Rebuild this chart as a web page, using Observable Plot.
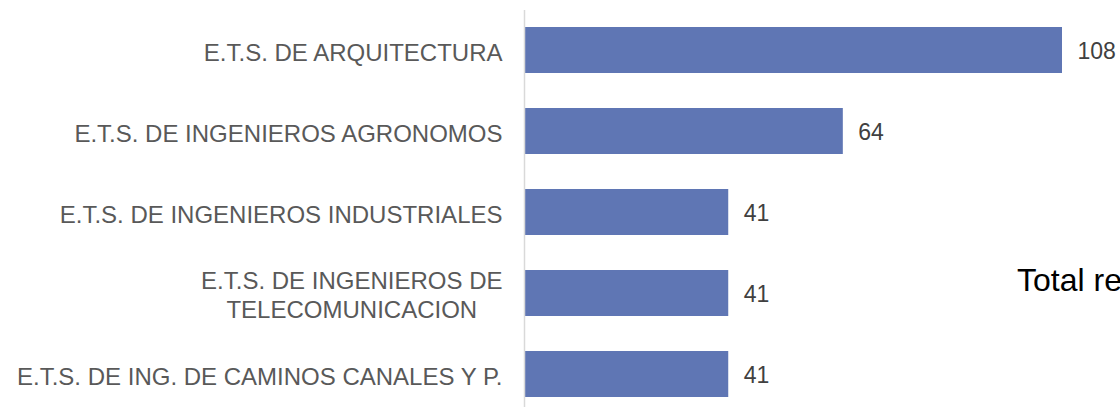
<!DOCTYPE html>
<html><head><meta charset="utf-8">
<script src="https://cdn.jsdelivr.net/npm/d3@7"></script>
<script src="https://cdn.jsdelivr.net/npm/@observablehq/plot@0.6"></script>
<style>
html,body{margin:0;padding:0;background:#fff;overflow:hidden}
#chart{position:relative;width:1120px;height:407px;overflow:hidden}
#total{position:absolute;left:1017px;top:264px;font:32px/32px "Liberation Sans",Arial,sans-serif;color:#000;white-space:nowrap}
</style></head>
<body><div id="chart"></div>
<script>
const schools = [
  "E.T.S. DE ARQUITECTURA",
  "E.T.S. DE INGENIEROS AGRONOMOS",
  "E.T.S. DE INGENIEROS INDUSTRIALES",
  "E.T.S. DE INGENIEROS DE\nTELECOMUNICACION",
  "E.T.S. DE ING. DE CAMINOS CANALES Y P."
];
const counts = [108, 64, 41, 41, 41];
const data = schools.map((s, i) => ({school: s, count: counts[i]}));

const plot = Plot.plot({
  width: 1120,
  height: 407,
  marginTop: 10,
  marginBottom: 0,
  marginLeft: 523,
  marginRight: 0,
  style: {fontFamily: '"Liberation Sans", Arial, sans-serif', background: "white", overflow: "visible"},
  x: {domain: [0, 108], range: [524, 1062], axis: null},
  y: {domain: schools, range: [9.5, 414.5], paddingInner: 0.432, paddingOuter: 0.216, axis: null},
  marks: [
    Plot.barX(data, {y: "school", x: "count", fill: "#5f76b4"}),
    Plot.ruleX([0], {stroke: "#d9d9d9", strokeWidth: 1.5}),
    Plot.text(data, {y: "school", x: 0, text: "school", textAnchor: "end", dx: -22, dy: 1, fontSize: 24, fill: "#595959", lineHeight: 1.17, className: "lbl"}),
    Plot.text(data, {y: "school", x: "count", text: d => String(d.count), textAnchor: "start", dx: 15, dy: 1, fontSize: 23, fill: "#404040"})
  ]
});
document.getElementById("chart").appendChild(plot);
// center multi-line label lines relative to each other, keeping block right-aligned
plot.querySelectorAll("g.lbl text").forEach(el => {
  const spans = el.querySelectorAll("tspan");
  if (spans.length > 1) {
    let w = 0;
    spans.forEach(s => { w = Math.max(w, s.getComputedTextLength()); });
    el.setAttribute("text-anchor", "middle");
    const tr = el.getAttribute("transform") || "";
    el.setAttribute("transform", tr + " translate(" + (-w / 2) + ",0)");
  }
});
const t = document.createElement("div");
t.id = "total";
t.textContent = "Total respuestas";
document.getElementById("chart").appendChild(t);
</script>
</body></html>
